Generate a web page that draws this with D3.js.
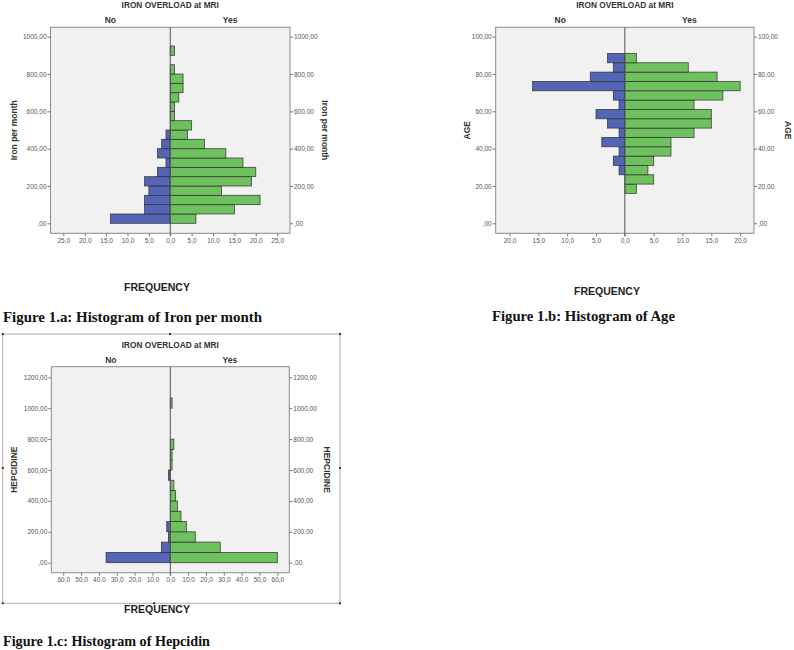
<!DOCTYPE html>
<html><head><meta charset="utf-8">
<script src="https://cdn.jsdelivr.net/npm/d3@7"></script>
<style>body{margin:0;background:#fff;} svg{display:block;}</style>
</head><body>
<svg id="c" width="794" height="650"></svg>
<script>
// ---------------- data ----------------
const groups = ["No", "Yes"];
const chartTitle = "IRON OVERLOAD at MRI";
const xTitle = "FREQUENCY";

// Figure 1.a  Iron per month (bins of 50 starting at 0)
const ironBinStart = 0, ironBinWidth = 50;
const ironNo  = [14, 6, 6, 5, 6, 3, 1, 3, 2, 1, 0, 0, 0, 0, 0, 0, 0, 0, 0];
const ironYes = [6, 15, 21, 12, 19, 20, 17, 13, 8, 4, 5, 1, 1, 2, 3, 3, 1, 0, 1];
const ironYTicks = [0, 200, 400, 600, 800, 1000];
const ironXTicks = [-25, -20, -15, -10, -5, 0, 5, 10, 15, 20, 25];

// Figure 1.b  Age (bins of 5 starting at 16)
const ageBinStart = 16, ageBinWidth = 5;
const ageNo  = [0, 0, 1, 2, 1, 4, 1, 3, 5, 1, 2, 16, 6, 2, 3];
const ageYes = [2, 5, 4, 5, 8, 8, 12, 15, 15, 12, 17, 20, 16, 11, 2];
const ageYTicks = [0, 20, 40, 60, 80, 100];
const ageXTicks = [-20, -15, -10, -5, 0, 5, 10, 15, 20];

// Figure 1.c  Hepcidine (bins of 66.67 starting at 0)
const hepBinStart = 0, hepBinWidth = 66.667;
const hepNo  = [36, 5, 1, 2, 0, 0, 0, 0, 1, 0, 0, 0, 0, 0, 0, 0];
const hepYes = [60, 28, 14, 9, 6, 4, 3, 2, 0, 1, 1, 2, 0, 0, 0, 1];
const hepYTicks = [0, 200, 400, 600, 800, 1000, 1200];
const hepXTicks = [-60, -50, -40, -30, -20, -10, 0, 10, 20, 30, 40, 50, 60];

const captions = ["Figure 1.a: Histogram of Iron per month",
                  "Figure 1.b: Histogram of Age",
                  "Figure 1.c: Histogram of Hepcidin"];

// ---------------- layout ----------------
const panels = [
  {name:"Iron per month", no:ironNo, yes:ironYes, binStart:ironBinStart, binW:ironBinWidth,
   yTicks:ironYTicks, xTicks:ironXTicks, yMin:-53.6, yMax:1050.4, xMax:28.0,
   left:50.5, right:290, top:27.3, bottom:233.3,
   lblL:14, lblR:325, freqX:157, freqY:290.5,
   cap:captions[0], capX:3, capY:322, capW:259},
  {name:"AGE", no:ageNo, yes:ageYes, binStart:ageBinStart, binW:ageBinWidth,
   yTicks:ageYTicks, xTicks:ageXTicks, yMin:-5.36, yMax:105.0, xMax:22.4,
   left:495.7, right:754, top:27.3, bottom:233.3,
   lblL:467, lblR:788, freqX:607, freqY:295,
   cap:captions[1], capX:492, capY:320.5, capW:183},
  {name:"HEPCIDINE", no:hepNo, yes:hepYes, binStart:hepBinStart, binW:hepBinWidth,
   yTicks:hepYTicks, xTicks:hepXTicks, yMin:-64.7, yMax:1268.6, xMax:66.7,
   left:51.3, right:289.3, top:366.7, bottom:572.7,
   lblL:14, lblR:327, freqX:157, freqY:612.5,
   cap:captions[2], capX:3, capY:646, capW:207}
];

const colNo = "#5565b6", colYes = "#6fc05e";
const svg = d3.select("#c");
const yFmt = v => v === 0 ? ",00" : v + ",00";
const xFmt = v => Math.abs(v).toFixed(1).replace(".", ",");

// border around panel c
const bc = {x0:2.7, y0:334, x1:340, y1:603.3};
svg.append("rect").attr("x", bc.x0).attr("y", bc.y0)
  .attr("width", bc.x1 - bc.x0).attr("height", bc.y1 - bc.y0)
  .attr("fill", "none").attr("stroke", "#b0b0b0").attr("stroke-width", 1);
const handles = [[bc.x0, bc.y0], [170, bc.y0], [bc.x1, bc.y0], [bc.x0, 468], [bc.x1, 468],
                 [bc.x0, bc.y1], [154, bc.y1], [bc.x1, bc.y1]];
svg.selectAll("rect.h").data(handles).join("rect").attr("class", "h")
  .attr("x", d => d[0] - 1).attr("y", d => d[1] - 1).attr("width", 2).attr("height", 2)
  .attr("fill", "#333");

panels.forEach(p => {
  const g = svg.append("g");
  const x = d3.scaleLinear().domain([-p.xMax, p.xMax]).range([p.left, p.right]);
  const y = d3.scaleLinear().domain([p.yMin, p.yMax]).range([p.bottom, p.top]);
  const cx = x(0);

  // plot background
  g.append("rect").attr("x", p.left).attr("y", p.top)
    .attr("width", p.right - p.left).attr("height", p.bottom - p.top)
    .attr("fill", "#f1f1f1").attr("stroke", "#8a8a8a").attr("stroke-width", 1);

  // titles
  g.append("text").attr("x", cx).attr("y", p.top - 19)
    .attr("text-anchor", "middle").attr("font-family", "Liberation Sans, Arial, sans-serif")
    .attr("font-weight", "bold").attr("font-size", 8.3).attr("fill", "#333").text(chartTitle);
  g.append("text").attr("x", (p.left + cx) / 2).attr("y", p.top - 4)
    .attr("text-anchor", "middle").attr("font-family", "Liberation Sans, Arial, sans-serif")
    .attr("font-weight", "bold").attr("font-size", 8.5).attr("fill", "#333").text(groups[0]);
  g.append("text").attr("x", (cx + p.right) / 2).attr("y", p.top - 4)
    .attr("text-anchor", "middle").attr("font-family", "Liberation Sans, Arial, sans-serif")
    .attr("font-weight", "bold").attr("font-size", 8.5).attr("fill", "#333").text(groups[1]);

  // bars
  const rows = p.no.map((n, i) => ({i, no:n, yes:p.yes[i],
     y0:p.binStart + i * p.binW, y1:p.binStart + (i + 1) * p.binW}));
  g.selectAll("rect.no").data(rows.filter(d => d.no > 0)).join("rect").attr("class", "no")
    .attr("x", d => x(-d.no)).attr("width", d => cx - x(-d.no))
    .attr("y", d => y(d.y1)).attr("height", d => y(d.y0) - y(d.y1))
    .attr("fill", colNo).attr("stroke", "#2b2b2b").attr("stroke-width", 0.8).attr("stroke-opacity", 0.85);
  g.selectAll("rect.yes").data(rows.filter(d => d.yes > 0)).join("rect").attr("class", "yes")
    .attr("x", cx).attr("width", d => x(d.yes) - cx)
    .attr("y", d => y(d.y1)).attr("height", d => y(d.y0) - y(d.y1))
    .attr("fill", colYes).attr("stroke", "#2b2b2b").attr("stroke-width", 0.8).attr("stroke-opacity", 0.85);

  // center line
  g.append("line").attr("x1", cx).attr("x2", cx).attr("y1", p.top).attr("y2", p.bottom + 3)
    .attr("stroke", "#555").attr("stroke-width", 1);

  // axes
  const styleAxis = sel => {
    sel.select(".domain").remove();
    sel.selectAll("line").attr("stroke", "#777");
    sel.selectAll("text").attr("fill", "#555").attr("font-size", 6.5)
      .attr("font-family", "Liberation Sans, Arial, sans-serif");
  };
  g.append("g").attr("transform", `translate(${p.left},0)`)
    .call(d3.axisLeft(y).tickValues(p.yTicks).tickSize(3).tickPadding(1).tickFormat(yFmt))
    .call(styleAxis);
  g.append("g").attr("transform", `translate(${p.right},0)`)
    .call(d3.axisRight(y).tickValues(p.yTicks).tickSize(3).tickPadding(1).tickFormat(yFmt))
    .call(styleAxis);
  g.append("g").attr("transform", `translate(0,${p.bottom})`)
    .call(d3.axisBottom(x).tickValues(p.xTicks).tickSize(3).tickPadding(2).tickFormat(xFmt))
    .call(styleAxis);

  // y axis titles
  const midY = (p.top + p.bottom) / 2;
  g.append("text").attr("transform", `translate(${p.lblL},${midY}) rotate(-90)`)
    .attr("text-anchor", "middle").attr("dy", "0.35em")
    .attr("font-family", "Liberation Sans, Arial, sans-serif").attr("font-weight", "bold")
    .attr("font-size", 8.5).attr("fill", "#333").text(p.name);
  g.append("text").attr("transform", `translate(${p.lblR},${midY}) rotate(90)`)
    .attr("text-anchor", "middle").attr("dy", "0.35em")
    .attr("font-family", "Liberation Sans, Arial, sans-serif").attr("font-weight", "bold")
    .attr("font-size", 8.5).attr("fill", "#333").text(p.name);

  // FREQUENCY
  g.append("text").attr("x", p.freqX).attr("y", p.freqY).attr("text-anchor", "middle")
    .attr("font-family", "Liberation Sans, Arial, sans-serif").attr("font-weight", "bold")
    .attr("font-size", 10.5).attr("fill", "#222").text(xTitle);

  // caption
  g.append("text").attr("x", p.capX).attr("y", p.capY)
    .attr("font-family", "Liberation Serif, serif").attr("font-weight", "bold")
    .attr("font-size", 14).attr("fill", "#111")
    .attr("textLength", p.capW).attr("lengthAdjust", "spacingAndGlyphs").text(p.cap);
});
</script>
</body></html>
